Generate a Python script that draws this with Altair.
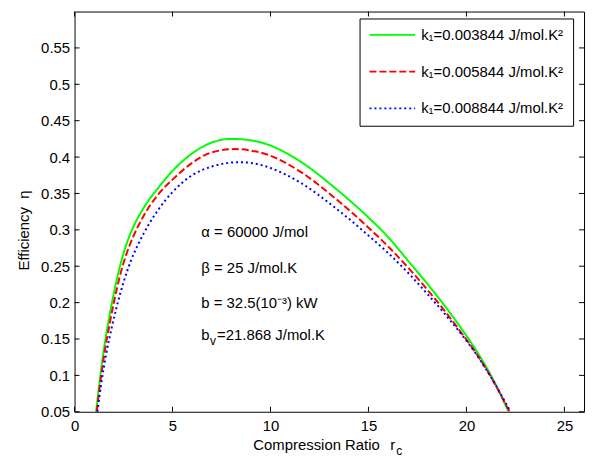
import altair as alt
import pandas as pd

FONT = "Liberation Sans"
W, H = 513, 403

series_labels = ["k₁=0.003844 J/mol.K²", "k₁=0.005844 J/mol.K²", "k₁=0.008844 J/mol.K²"]
colors = ["#00ff00", "#ff0000", "#0000ff"]
dashes = [[1, 0], [7, 3], [2, 3]]

r_green = [1.10, 1.3, 1.5, 1.77, 2.0, 2.3, 2.62, 3.0, 3.5, 4.31, 5.0, 6.0, 7.0, 8.0, 9.0, 9.89,
           10.7, 11.58, 12.4, 13.27, 14.1, 14.96, 15.97, 17.16, 18.0, 18.85, 19.7, 20.53, 21.35, 22.15]
eta_green = [0.05, 0.096, 0.136, 0.18, 0.212, 0.248, 0.278, 0.304, 0.329, 0.359, 0.381, 0.405, 0.420,
             0.425, 0.423, 0.417, 0.407, 0.393, 0.377, 0.358, 0.339, 0.318, 0.291, 0.253, 0.226, 0.197,
             0.166, 0.133, 0.095, 0.05]

r_red = [1.13, 1.33, 1.53, 1.8, 2.03, 2.33, 2.65, 3.0, 3.5, 4.31, 5.0, 6.0, 7.0, 8.2, 9.0, 9.89,
         10.7, 11.58, 12.4, 13.27, 14.1, 14.96, 15.97, 17.16, 18.0, 18.85, 19.7, 20.53, 21.35, 22.2]
eta_red = [0.05, 0.094, 0.131, 0.172, 0.203, 0.238, 0.267, 0.291, 0.318, 0.350, 0.369, 0.392, 0.4065,
           0.411, 0.409, 0.403, 0.393, 0.379, 0.363, 0.344, 0.325, 0.304, 0.278, 0.244, 0.218, 0.190,
           0.160, 0.129, 0.093, 0.05]

r_blue = [1.17, 1.37, 1.6, 1.9, 2.15, 2.5, 2.87, 3.3, 3.8, 4.31, 5.0, 6.0, 7.0, 8.4, 9.0, 9.89,
          10.7, 11.58, 12.4, 13.27, 14.1, 14.96, 15.97, 17.16, 18.0, 18.85, 19.7, 20.53, 21.35, 22.25]
eta_blue = [0.05, 0.09, 0.127, 0.166, 0.194, 0.228, 0.257, 0.283, 0.308, 0.329, 0.352, 0.375, 0.387,
            0.393, 0.392, 0.386, 0.377, 0.364, 0.349, 0.331, 0.313, 0.293, 0.269, 0.237, 0.212, 0.186,
            0.158, 0.128, 0.093, 0.05]

x_ticks = [0, 5, 10, 15, 20, 25]
y_ticks = [0.05, 0.1, 0.15, 0.2, 0.25, 0.3, 0.35, 0.4, 0.45, 0.5, 0.55]

ann_lines = ["α = 60000 J/mol", "β = 25 J/mol.K", "b = 32.5(10⁻³) kW"]
ann_bv = ["b", "v", "=21.868 J/mol.K"]
x_title = ["Compression Ratio", "r", "c"]
y_title = "Efficiency\u00a0\u00a0η"

rows = []
for name, rs, es in zip(series_labels, [r_green, r_red, r_blue], [eta_green, eta_red, eta_blue]):
    for r, e in zip(rs, es):
        rows.append({"series": name, "r": r, "eta": e})
df = pd.DataFrame(rows)

x_scale = alt.Scale(domain=[0, 26], nice=False, zero=False)
y_scale = alt.Scale(domain=[0.05, 0.6], nice=False, zero=False)

x_axis = alt.Axis(
    values=x_ticks, title=None, grid=False, ticks=False, domain=False, labelFlush=False,
    labelPadding=7, labelFontSize=15, labelFont=FONT, labelColor="black")
y_axis = alt.Axis(
    values=y_ticks, format=".2~f", title=y_title, grid=False, ticks=False, domain=False,
    labelFlush=False, labelPadding=5, labelFontSize=15, labelFont=FONT, labelColor="black",
    titleFont=FONT, titleFontSize=15, titleFontWeight="normal", titleColor="black",
    titleAngle=270, titleX=-51, titleY=220, titleAlign="center", titleBaseline="middle")

leg = alt.Legend(
    title=None, orient="none", legendX=287, legendY=7, strokeColor="black", fillColor="white",
    padding=9, symbolType="stroke", symbolSize=2116, symbolStrokeWidth=2, labelFontSize=15,
    labelFont=FONT, labelColor="black", labelOffset=5, rowPadding=21, clipHeight=15, labelLimit=0,
    cornerRadius=0,
)

lines = alt.Chart(df).mark_line(strokeWidth=2, clip=True, interpolate="monotone").encode(
    x=alt.X("r:Q", scale=x_scale, axis=x_axis),
    y=alt.Y("eta:Q", scale=y_scale, axis=y_axis),
    color=alt.Color("series:N", scale=alt.Scale(domain=series_labels, range=colors), legend=leg),
    strokeDash=alt.StrokeDash("series:N", scale=alt.Scale(domain=series_labels, range=dashes), legend=leg),
)

xt = pd.DataFrame({"r": x_ticks})
yt = pd.DataFrame({"eta": y_ticks})
TL = 5
bottom_ticks = alt.Chart(xt).mark_rule(color="black", strokeWidth=1).encode(
    x=alt.X("r:Q", scale=x_scale, axis=x_axis), y=alt.value(H), y2=alt.value(H - TL))
top_ticks = alt.Chart(xt).mark_rule(color="black", strokeWidth=1).encode(
    x=alt.X("r:Q", scale=x_scale, axis=x_axis), y=alt.value(0), y2=alt.value(TL))
left_ticks = alt.Chart(yt).mark_rule(color="black", strokeWidth=1).encode(
    y=alt.Y("eta:Q", scale=y_scale, axis=y_axis), x=alt.value(0), x2=alt.value(TL))
right_ticks = alt.Chart(yt).mark_rule(color="black", strokeWidth=1).encode(
    y=alt.Y("eta:Q", scale=y_scale, axis=y_axis), x=alt.value(W), x2=alt.value(W - TL))

one = pd.DataFrame({"d": [0]})


def txt(s, x, y, size=15):
    return alt.Chart(one).mark_text(text=s, font=FONT, fontSize=size, color="black",
                                    align="left", baseline="alphabetic").encode(
        x=alt.value(x), y=alt.value(y))


ann_y = [226.7, 263.3, 299]
texts = [txt(s, 127.7, y) for s, y in zip(ann_lines, ann_y)]
texts.append(txt(ann_bv[0], 127.7, 330.7))
texts.append(txt(ann_bv[1], 136.5, 335.5, 12))
texts.append(txt(ann_bv[2], 143.5, 330.7))
texts.append(txt(x_title[0], 180, 441))
texts.append(txt(x_title[1], 318, 441))
texts.append(txt(x_title[2], 324, 447, 12))

chart = alt.layer(lines, bottom_ticks, top_ticks, left_ticks, right_ticks, *texts).properties(
    width=W, height=H,
    autosize=alt.AutoSizeParams(type="none"),
    padding={"left": 67, "top": 2, "right": 1, "bottom": 47},
).configure(font=FONT).configure_view(stroke="black", strokeWidth=1)

chart.save("out.html", embed_options={"renderer": "svg", "actions": False})
